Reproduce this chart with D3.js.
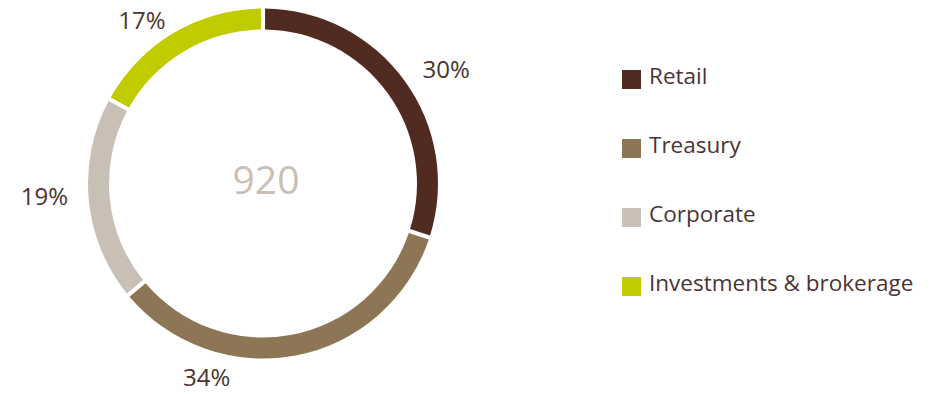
<!DOCTYPE html>
<html>
<head>
<meta charset="utf-8">
<script src="https://cdn.jsdelivr.net/npm/d3@7/dist/d3.min.js"></script>
<style>
  html, body { margin: 0; padding: 0; background: #ffffff; }
  svg { display: block; font-family: "Open Sans", sans-serif; }
</style>
</head>
<body>
<svg id="chart" width="940" height="394"></svg>
<script>
// Segment data
const categories = ["Retail", "Treasury", "Corporate", "Investments & brokerage"];
const shares = [30, 34, 19, 17];
const colors = ["#512b22", "#8c7656", "#c9bfb5", "#c0cc00"];
const totalLabel = "920";

// Label placement: angular nudge (degrees) from each arc's mid angle
const labelNudge = [4, 27, 2, -6];
const labelRadius = [216, 202, 219, 203];

const svg = d3.select("#chart");
const cx = 263, cy = 183.5;
const outerR = 175, innerR = 154;
const textColor = "#4b3433";

const pie = d3.pie().sort(null).value(d => d)(shares);
const arc = d3.arc()
  .innerRadius(innerR)
  .outerRadius(outerR)
  .padAngle(0.025)
  .padRadius(165);

const g = svg.append("g").attr("transform", `translate(${cx},${cy})`);

g.selectAll("path.slice")
  .data(pie)
  .join("path")
  .attr("class", "slice")
  .attr("d", arc)
  .attr("fill", (d, i) => colors[i]);

// Percentage labels around the ring
g.selectAll("text.pct")
  .data(pie)
  .join("text")
  .attr("class", "pct")
  .attr("x", (d, i) => {
    const a = (d.startAngle + d.endAngle) / 2 + labelNudge[i] * Math.PI / 180;
    return labelRadius[i] * Math.sin(a);
  })
  .attr("y", (d, i) => {
    const a = (d.startAngle + d.endAngle) / 2 + labelNudge[i] * Math.PI / 180;
    return -labelRadius[i] * Math.cos(a);
  })
  .attr("dy", "0.36em")
  .attr("text-anchor", "middle")
  .attr("font-size", 24)
  .attr("fill", textColor)
  .text(d => d.data + "%");

// Total in the middle
g.append("text")
  .attr("x", 3)
  .attr("y", 10)
  .attr("text-anchor", "middle")
  .attr("font-size", 39)
  .attr("fill", "#c9bfb5")
  .text(totalLabel);

// Legend
const legend = svg.append("g").attr("transform", "translate(622,70)");
const item = legend.selectAll("g.item")
  .data(categories)
  .join("g")
  .attr("class", "item")
  .attr("transform", (d, i) => `translate(0,${i * 69})`);

item.append("rect")
  .attr("width", 19)
  .attr("height", 19)
  .attr("fill", (d, i) => colors[i]);

item.append("text")
  .attr("x", 27)
  .attr("y", 13.5)
  .attr("font-size", 22.5)
  .attr("fill", textColor)
  .text(d => d);
</script>
</body>
</html>
